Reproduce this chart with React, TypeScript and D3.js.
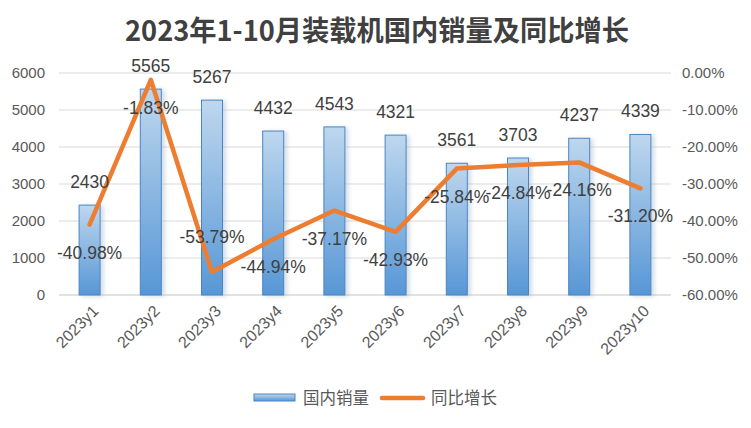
import { useEffect, useRef } from 'react'
import * as d3 from 'd3'

const months = ['2023y1', '2023y2', '2023y3', '2023y4', '2023y5', '2023y6', '2023y7', '2023y8', '2023y9', '2023y10']
const sales = [2430, 5565, 5267, 4432, 4543, 4321, 3561, 3703, 4237, 4339]
const growth = [-40.98, -1.83, -53.79, -44.94, -37.17, -42.93, -25.84, -24.84, -24.16, -31.2]
const growthLabelSide = ['below', 'below', 'above', 'below', 'below', 'below', 'below', 'below', 'below', 'below']
const leftTicks = [0, 1000, 2000, 3000, 4000, 5000, 6000]
const rightTicks = [0, -10, -20, -30, -40, -50, -60]

const W = 751
const H = 428
const title = '2023年1-10月装载机国内销量及同比增长'
const numFont = '"Liberation Sans", Arial, sans-serif'
const cjkFont = '"Noto Sans CJK SC", sans-serif'

const pct = (d: number) => d.toFixed(2) + '%'

export default function App() {
  const svgRef = useRef<SVGSVGElement>(null)

  useEffect(() => {
    document.body.style.margin = '0'
    if (!svgRef.current) return
    const svg = d3.select(svgRef.current)
    svg.selectAll('*').remove()

    const left = 59, right = 671, top = 73, bottom = 295

    const x = d3.scaleBand<string>().domain(months).range([left, right]).paddingInner(0).paddingOuter(0)
    const yL = d3.scaleLinear().domain([0, 6000]).range([bottom, top])
    const yR = d3.scaleLinear().domain([-60, 0]).range([bottom, top])
    const cx = (m: string) => (x(m) ?? 0) + x.bandwidth() / 2

    const defs = svg.append('defs')
    const grad = defs.append('linearGradient').attr('id', 'barGrad').attr('x1', 0).attr('y1', 0).attr('x2', 0).attr('y2', 1)
    grad.append('stop').attr('offset', '0%').attr('stop-color', '#bed7ee')
    grad.append('stop').attr('offset', '100%').attr('stop-color', '#5797d6')
    const shadow = defs.append('filter').attr('id', 'shadow').attr('x', '-30%').attr('y', '-10%').attr('width', '180%').attr('height', '120%')
    shadow.append('feDropShadow').attr('dx', 3).attr('dy', 1).attr('stdDeviation', 2).attr('flood-color', '#9bb4cc').attr('flood-opacity', 0.45)

    svg.append('rect').attr('width', W).attr('height', H).attr('fill', '#fff')

    // title
    svg.append('text')
      .attr('x', 377).attr('y', 41)
      .attr('text-anchor', 'middle')
      .attr('font-family', cjkFont)
      .attr('font-weight', 'bold')
      .attr('font-size', 28)
      .attr('fill', '#404040')
      .attr('textLength', 504)
      .attr('lengthAdjust', 'spacingAndGlyphs')
      .text(title)

    // gridlines
    svg.append('g').selectAll('line').data(leftTicks).enter().append('line')
      .attr('x1', left).attr('x2', right)
      .attr('y1', d => yL(d)).attr('y2', d => yL(d))
      .attr('stroke', '#d9d9d9')
      .attr('stroke-width', d => (d === 0 ? 1.5 : 1))

    // left axis labels
    svg.append('g').selectAll('text').data(leftTicks).enter().append('text')
      .attr('x', 45).attr('y', d => yL(d))
      .attr('dy', '0.35em')
      .attr('text-anchor', 'end')
      .attr('font-family', numFont).attr('font-size', 15).attr('fill', '#595959')
      .text(d => d)

    // right axis labels
    svg.append('g').selectAll('text').data(rightTicks).enter().append('text')
      .attr('x', 682).attr('y', d => yR(d))
      .attr('dy', '0.35em')
      .attr('font-family', numFont).attr('font-size', 15).attr('fill', '#595959')
      .text(d => pct(d))

    // bars
    const barW = 21
    svg.append('g').selectAll('rect').data(sales).enter().append('rect')
      .attr('x', (_, i) => cx(months[i]) - barW / 2)
      .attr('y', d => yL(d))
      .attr('width', barW)
      .attr('height', d => bottom - yL(d))
      .attr('fill', 'url(#barGrad)')
      .attr('stroke', '#4a85c4')
      .attr('stroke-width', 1)
      .attr('filter', 'url(#shadow)')

    // x labels
    svg.append('g').selectAll('text').data(months).enter().append('text')
      .attr('transform', d => `translate(${cx(d) + 6},${bottom + 13}) rotate(-45)`)
      .attr('text-anchor', 'end')
      .attr('dy', '0.35em')
      .attr('font-family', numFont).attr('font-size', 16).attr('fill', '#595959')
      .text(d => d)

    // line
    const line = d3.line<number>()
      .x((_, i) => cx(months[i]))
      .y(d => yR(d))
    svg.append('path')
      .datum(growth)
      .attr('d', line)
      .attr('fill', 'none')
      .attr('stroke', '#ed7d31')
      .attr('stroke-width', 4.5)
      .attr('stroke-linejoin', 'round')
      .attr('stroke-linecap', 'round')

    // bar value labels
    svg.append('g').selectAll('text').data(sales).enter().append('text')
      .attr('x', (_, i) => cx(months[i]))
      .attr('y', d => yL(d) - 17)
      .attr('text-anchor', 'middle')
      .attr('font-family', numFont).attr('font-size', 17.5).attr('fill', '#404040')
      .text(d => d)

    // growth labels
    svg.append('g').selectAll('text').data(growth).enter().append('text')
      .attr('x', (_, i) => cx(months[i]))
      .attr('y', (d, i) => yR(d) + (growthLabelSide[i] === 'above' ? -29 : 34))
      .attr('text-anchor', 'middle')
      .attr('font-family', numFont).attr('font-size', 17.5).attr('fill', '#404040')
      .text(d => pct(d))

    // legend
    const lg = svg.append('g')
    lg.append('rect').attr('x', 254).attr('y', 394).attr('width', 41).attr('height', 7)
      .attr('fill', 'url(#barGrad)').attr('stroke', '#4a85c4').attr('stroke-width', 1)
    lg.append('text').attr('x', 303).attr('y', 404)
      .attr('font-family', cjkFont).attr('font-size', 16.5).attr('fill', '#595959')
      .text('国内销量')
    lg.append('line').attr('x1', 382).attr('x2', 423).attr('y1', 398).attr('y2', 398)
      .attr('stroke', '#ed7d31').attr('stroke-width', 4.5).attr('stroke-linecap', 'round')
    lg.append('text').attr('x', 431).attr('y', 404)
      .attr('font-family', cjkFont).attr('font-size', 16.5).attr('fill', '#595959')
      .text('同比增长')
  }, [])

  return <svg ref={svgRef} width={W} height={H} style={{ display: 'block' }} />
}
